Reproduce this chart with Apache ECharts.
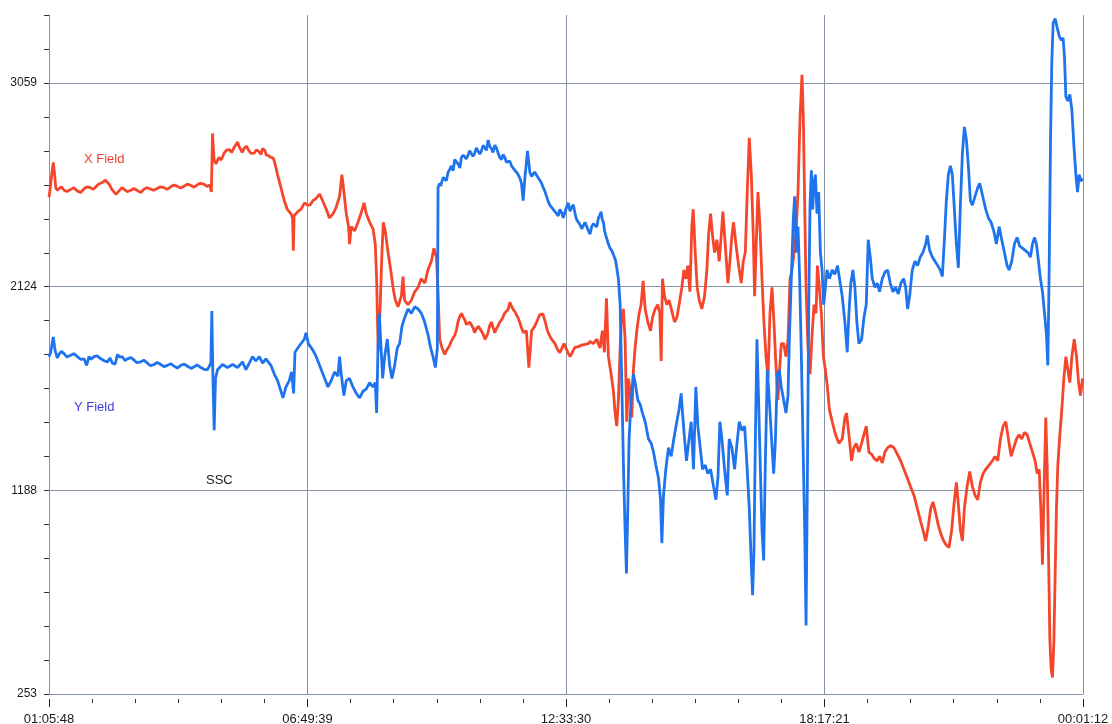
<!DOCTYPE html>
<html>
<head>
<meta charset="utf-8">
<script src="https://cdn.jsdelivr.net/npm/echarts@6/dist/echarts.min.js"></script>
<style>
  html, body { margin: 0; padding: 0; background: #ffffff; }
  #chart { width: 1112px; height: 724px; }
</style>
</head>
<body>
<div id="chart"></div>
<script>
// Magnetometer record: [minutes elapsed since 01:05:48, field reading]
const xField = [
  [0,2534],[1,2558],[4,2648],[5.7,2694],[7.5,2638],[9,2578],[11,2566],[13,2574],[16.5,2582],[20,2566],
  [24,2560],[29,2570],[33,2578],[38,2562],[42,2556],[47,2574],[51,2582],[55,2578],[59,2570],[64,2588],
  [67,2596],[71,2602],[75,2612],[80,2594],[84,2568],[89,2548],[93,2562],[97,2578],[100,2570],[104,2560],
  [109,2566],[113,2574],[118,2564],[122,2556],[126,2570],[130,2578],[135,2572],[139,2566],[144,2574],[148,2582],
  [153,2578],[157,2570],[162,2582],[166,2590],[171,2584],[175,2576],[180,2586],[184,2594],[189,2588],[193,2580],
  [197,2590],[201,2598],[206,2594],[210,2584],[214,2590],[216,2558],[217.5,2827],[219.5,2707],[222,2687],[226,2717],
  [229,2705],[233,2737],[236,2750],[240,2753],[243,2740],[246,2761],[248,2770],[251,2787],[253,2765],[255,2753],
  [257,2740],[260,2761],[263,2768],[266,2747],[269,2735],[273,2737],[276,2752],[280,2741],[282,2730],[284,2757],
  [287,2750],[289,2727],[292,2725],[295,2717],[298,2715],[300,2697],[304,2638],[308.5,2578],[313,2518],[317,2478],
  [322,2458],[324,2439],[325,2289],[326,2449],[331,2468],[335,2478],[340,2508],[344,2498],[347,2498],[351,2518],
  [355,2528],[360,2548],[364,2518],[369,2478],[373,2439],[378,2459],[382,2488],[386.5,2538],[389.6,2638],[392.3,2558],
  [395.4,2459],[398.5,2399],[399.8,2319],[402,2399],[406.5,2379],[411,2419],[415,2459],[419,2508],[422,2459],[426.5,2419],
  [431,2389],[434,2319],[435.8,2160],[436.7,2001],[438,1830],[440.2,2001],[442.9,2280],[444.7,2419],[447.3,2379],[451,2280],
  [454.5,2200],[457.6,2120],[460.7,2061],[464.2,2031],[468.7,2080],[470.9,2170],[473,2061],[477.5,2041],[482,2061],[486.4,2100],
  [491,2120],[495,2160],[500,2140],[504,2200],[508.6,2240],[512,2300],[515.3,2260],[517.5,2100],[519.7,1882],[522.8,1842],
  [526.4,1812],[528.7,1830],[531,1842],[533,1855],[535,1872],[537.5,1880],[540,1902],[542,1925],[544,1961],[546.3,1985],
  [548.6,2001],[550.8,1985],[553,1971],[555.2,1950],[557.5,1941],[559.8,1960],[562,1961],[564,1935],[566,1912],[568.5,1930],
  [571,1941],[573,1935],[575,1921],[577.5,1905],[580,1882],[582,1895],[584,1912],[586.2,1945],[588.5,1961],[590.8,1935],
  [593,1912],[595,1930],[597,1941],[599.5,1960],[602,1971],[604,1985],[606,2001],[608.5,2010],[611,2021],[613,2051],
  [615,2035],[617,2021],[619.5,2010],[622,2001],[624,1980],[626,1961],[628.5,1935],[631,1912],[633,1915],[635,1921],
  [638.3,1752],[642,1921],[644,1930],[646,1941],[648.5,1960],[651,1981],[653,1995],[655,2001],[657,1998],[659,1991],
  [661,1950],[663,1921],[665.7,1900],[668.5,1882],[670.7,1875],[673,1862],[675,1845],[677,1832],[679.5,1820],[682,1812],
  [685,1862],[690,1822],[693.1,1802],[695.3,1815],[697.5,1832],[699.7,1845],[701.9,1852],[704.2,1848],[706.4,1842],[708.6,1855],
  [710.8,1862],[713,1858],[715.3,1852],[717.5,1862],[719.7,1872],[721.9,1868],[724.1,1862],[726.4,1870],[728.6,1882],[730.8,1860],
  [733,1842],[736.1,1921],[738.8,1822],[741.5,2070],[744.1,1802],[747.7,1722],[750.8,1643],[753,1543],[755.2,1483],[757.4,1603],
  [759.7,1842],[761.9,2001],[764.1,2021],[766.3,1882],[768.5,1503],[770.8,1702],[773,1643],[775.2,1523],[777.4,1742],[779.6,1842],
  [781.9,1921],[785,2001],[787.6,2041],[790.3,2150],[793,2021],[796.5,1961],[800.1,1921],[802.7,1981],[806.3,2021],[809.8,2041],
  [812.5,2001],[814.3,1782],[816,2160],[818.7,2080],[821.8,2041],[824.9,2061],[828.5,2011],[832,1961],[835.1,1981],[838.2,2041],
  [841.8,2120],[844.5,2200],[847.1,2160],[849.8,2220],[852.5,2100],[855.1,2399],[856.9,2478],[859.6,2280],[862.2,2120],[864.9,2061],
  [868.4,2021],[872,2080],[875.1,2200],[877.3,2359],[880,2459],[882.6,2359],[885.3,2280],[888.4,2339],[891.5,2240],[894.2,2359],
  [896.4,2468],[899.5,2319],[903.1,2140],[905.7,2240],[908.4,2359],[910.6,2419],[913.7,2319],[917.3,2220],[920.8,2140],[923.5,2240],
  [926.2,2280],[928.8,2558],[931.5,2807],[934.2,2638],[936.8,2359],[938.6,2080],[940.4,2280],[943,2558],[945.7,2399],[948.4,2160],
  [951,1961],[953.7,1802],[956.4,1702],[959,2001],[961.7,2120],[964.3,1961],[967,1762],[969.7,1603],[971.4,1722],[974.1,1862],
  [977.2,1862],[980.3,1802],[983,1882],[985.7,2160],[988.3,2200],[991,2280],[993.6,2359],[996.3,2558],[999,2897],[1001.6,3096],
  [1003.4,2897],[1005.2,2498],[1007,2120],[1009.6,1842],[1012.3,1722],[1015,1902],[1017.6,2041],[1020.3,2001],[1022.1,2220],[1024.7,2120],
  [1027.4,2001],[1030.1,1802],[1032.7,1742],[1035.4,1663],[1038,1560],[1042,1500],[1046.2,1444],[1050.7,1404],[1055.1,1424],[1058.7,1523],
  [1060.9,1543],[1064,1444],[1067.5,1324],[1070.6,1384],[1073.7,1404],[1077.3,1364],[1080.9,1404],[1084,1444],[1087.1,1483],[1090.6,1364],
  [1094.2,1354],[1097.7,1334],[1101.7,1324],[1104.8,1344],[1108.4,1314],[1111.9,1364],[1115.5,1384],[1119.5,1394],[1123.9,1384],[1128.4,1354],
  [1132.8,1324],[1137.2,1285],[1141.7,1245],[1146.1,1205],[1150.6,1165],[1155,1105],[1159.4,1046],[1162.5,1006],[1166.1,956],[1169.7,1026],
  [1172.8,1105],[1175.9,1135],[1179.4,1085],[1183,1026],[1186.5,986],[1190.1,956],[1193.6,936],[1197.2,926],[1200.7,1006],[1203.8,1125],
  [1207,1225],[1209.6,1125],[1212.3,1006],[1215,956],[1217.6,1105],[1221.2,1205],[1224.7,1275],[1228.3,1205],[1231.8,1165],[1235.4,1145],
  [1238.9,1225],[1242.5,1265],[1246,1285],[1250.5,1304],[1254.9,1324],[1258.5,1344],[1262,1324],[1265.6,1424],[1269.1,1483],[1272.7,1503],
  [1276.2,1424],[1279.8,1344],[1283.3,1384],[1286.9,1424],[1290.4,1444],[1294,1424],[1297.5,1454],[1301.1,1444],[1304.6,1404],[1308.2,1364],
  [1311.7,1324],[1314.4,1265],[1317.1,1285],[1319.3,1105],[1321.5,847],[1323.7,1205],[1325.9,1523],[1327.7,1304],[1329.5,906],[1331.3,508],
  [1333,369],[1334.8,329],[1336.6,488],[1338.4,807],[1340.1,1105],[1341.9,1304],[1344.6,1444],[1347.3,1563],[1349.9,1702],[1352.6,1802],
  [1355.2,1742],[1357.9,1683],[1360.6,1802],[1363.7,1882],[1366.8,1802],[1369.5,1683],[1372.1,1623],[1374.8,1702]
];

const yField = [
  [0,1802],[2.2,1822],[5.7,1892],[8,1832],[11,1796],[13.3,1812],[16.5,1826],[20,1816],[24,1800],[28.8,1808],
  [33,1816],[37.7,1802],[42,1790],[46.6,1792],[50.1,1762],[53.2,1802],[56,1790],[59.9,1802],[64,1806],[68.8,1792],
  [73,1784],[77.7,1778],[81,1796],[84.3,1772],[88,1768],[91,1812],[94,1800],[97.6,1802],[101,1784],[104.3,1792],
  [109,1798],[113.2,1786],[117,1774],[122.1,1778],[126,1786],[131,1772],[135,1760],[139.8,1766],[144,1776],[148.7,1766],
  [153,1756],[157.6,1762],[162,1770],[166.5,1758],[171,1750],[175.3,1762],[180,1768],[184.2,1758],[189,1748],[193.1,1756],
  [197,1764],[202,1752],[206,1744],[210.9,1742],[215.3,1772],[216.6,2011],[218,1712],[219.7,1464],[221.5,1702],[224.2,1742],
  [230.8,1766],[237.5,1752],[244.2,1766],[250.8,1752],[257.5,1778],[261.9,1742],[266.4,1772],[270.8,1802],[275.2,1782],[279.7,1802],
  [284.1,1772],[288.6,1792],[295.2,1762],[299.7,1722],[304.1,1692],[308.5,1643],[311.2,1613],[315.2,1663],[319.6,1692],[322.7,1732],
  [325.4,1633],[327.2,1822],[333,1852],[339.6,1882],[341.9,1911],[345,1862],[351,1832],[355.4,1802],[359.9,1762],[364.3,1722],
  [368.8,1683],[371,1663],[375.4,1692],[379.9,1732],[384.3,1712],[386.5,1802],[388.7,1722],[392.3,1623],[395.4,1692],[399.8,1702],
  [404.3,1663],[408.7,1633],[413.2,1613],[417.6,1643],[422,1653],[426.5,1683],[430.9,1663],[434,1683],[435.8,1543],[437.6,1842],
  [439.4,2001],[441.1,1882],[443.8,1702],[446.5,1802],[450,1882],[453.1,1762],[456.2,1702],[459.8,1762],[463.3,1842],[466.4,1862],
  [469.5,1941],[473.1,1981],[477.5,2021],[482,2001],[486.4,2031],[490.9,2021],[495.3,2001],[499.7,1961],[504.2,1902],[507.7,1842],
  [510.8,1802],[513.9,1752],[516.6,1842],[517.5,2578],[519.7,2598],[521,2585],[522.8,2608],[524.5,2625],[526.4,2628],[528.5,2610],
  [530.8,2648],[533,2662],[535.3,2678],[537.5,2655],[539.7,2707],[542,2715],[544.1,2687],[546.5,2668],[548.6,2717],[551,2728],
  [553,2737],[555,2710],[557.5,2727],[559.5,2748],[561.9,2747],[564,2722],[566.3,2737],[568.5,2760],[570.8,2761],[573,2732],
  [575.2,2747],[577.5,2772],[579.7,2767],[582,2750],[584.1,2797],[586,2770],[588.5,2757],[590.5,2740],[593,2773],[595,2762],
  [597.4,2737],[599.5,2718],[601.9,2707],[604,2730],[606.3,2717],[608.5,2695],[610.7,2687],[613,2700],[615.2,2678],[617.5,2668],
  [619.6,2658],[622,2648],[624.1,2638],[626.5,2620],[628.5,2598],[630.7,2518],[632.9,2618],[636.5,2747],[639.6,2648],[642,2630],
  [644,2638],[646,2650],[648.5,2642],[650.5,2625],[652.9,2618],[655,2600],[657.4,2578],[659.5,2562],[661.8,2538],[664,2515],
  [666.2,2498],[668.5,2492],[670.7,2478],[673,2470],[675.1,2459],[677.3,2448],[679.5,2478],[681.8,2465],[684,2439],[686.2,2432],
  [688.4,2488],[690.8,2508],[693,2470],[695.3,2488],[697.5,2500],[699.7,2459],[702,2430],[704.2,2419],[706.4,2408],[708.6,2389],
  [710.8,2380],[713,2419],[715.3,2400],[717.5,2379],[719.7,2365],[721.9,2399],[724.1,2412],[726.4,2409],[728.6,2398],[730.8,2439],
  [732.6,2450],[734.4,2468],[736,2430],[737.5,2419],[739,2380],[740.6,2359],[742.3,2340],[744.1,2319],[746.3,2300],[748.6,2289],
  [750.3,2275],[752.1,2270],[753.6,2245],[755.2,2210],[757.4,2160],[759.7,2041],[761.9,1683],[764.1,1304],[766.3,1006],[768.1,807],
  [769.9,1105],[771.6,1424],[774.3,1603],[777.4,1722],[779.6,1683],[783.2,1603],[786.3,1583],[789.4,1543],[793,1503],[797.4,1424],
  [801,1404],[804.1,1364],[807.2,1304],[810.7,1245],[813.4,1145],[815.2,946],[817.4,1165],[820.5,1285],[824,1384],[827.6,1344],
  [831.1,1424],[835.1,1503],[838.2,1563],[840.9,1633],[842.7,1543],[845.4,1424],[848,1324],[850.7,1404],[854.2,1503],[857.3,1285],
  [860.4,1663],[863.1,1483],[866.2,1384],[869.3,1285],[872.9,1304],[876.4,1265],[880,1285],[884,1205],[887.1,1145],[889.8,1245],
  [892.4,1503],[895.1,1424],[898.6,1285],[902.2,1165],[904.8,1424],[908.4,1384],[912,1285],[915.1,1404],[918.2,1503],[921.7,1463],
  [925.3,1483],[928.4,1304],[931.5,1105],[934.2,847],[935.9,707],[937.7,906],[939.5,1404],[941.7,1882],[943.9,1603],[946.1,1304],
  [948.4,1006],[950.6,866],[952.8,1304],[955.5,1742],[958.1,1603],[960.8,1444],[963.9,1265],[966.1,1404],[968.8,1722],[971.4,1742],
  [974.1,1663],[977.2,1603],[980.3,1543],[983,1623],[984.8,1882],[987.4,2160],[990.1,2439],[991.9,2538],[994.1,2280],[996.3,2399],
  [998.5,2160],[1000.8,1802],[1003,1404],[1005.2,1006],[1007,568],[1008.7,1205],[1010.5,2001],[1012.3,2498],[1014.1,2658],[1015.8,2478],
  [1017.6,2598],[1019.4,2638],[1021.6,2459],[1023.8,2558],[1026.1,2280],[1028.3,2200],[1030.5,2041],[1032.7,2120],[1034.9,2200],[1038.2,2160],
  [1041.8,2200],[1045.3,2180],[1048.9,2220],[1051.5,2160],[1055.1,2080],[1058.7,1961],[1061.8,1822],[1064,2001],[1066.6,2140],[1069.3,2200],
  [1072,2120],[1074.6,1961],[1077.3,1862],[1080.9,1882],[1084,1981],[1087.1,2041],[1089.7,2339],[1092.4,2260],[1095.1,2160],[1098.6,2120],
  [1101.7,2140],[1104.8,2100],[1108.4,2160],[1111.9,2190],[1115.5,2200],[1119,2140],[1122.6,2100],[1126.1,2120],[1129.7,2090],[1133.2,2140],
  [1136.8,2160],[1139.5,2120],[1142.1,2021],[1144.8,2080],[1148.3,2200],[1151.9,2240],[1155.4,2220],[1159,2260],[1162.5,2280],[1166.1,2319],
  [1168.3,2359],[1171.4,2290],[1175,2260],[1178.5,2240],[1182.1,2220],[1185.6,2200],[1188.3,2170],[1191,2339],[1193.6,2518],[1196.3,2638],
  [1199,2678],[1201.6,2638],[1204.3,2478],[1207,2319],[1209.6,2210],[1212.3,2498],[1215,2737],[1217.6,2857],[1220.3,2797],[1222.9,2678],
  [1225.6,2518],[1228.3,2498],[1231.8,2538],[1235.4,2578],[1238,2598],[1240.7,2558],[1243.4,2518],[1246,2478],[1249.6,2439],[1253.1,2419],
  [1256.7,2379],[1260.2,2319],[1263.8,2399],[1267.3,2339],[1270.9,2280],[1274.4,2220],[1277.1,2200],[1280.6,2240],[1284.2,2319],[1287.7,2349],
  [1291.3,2309],[1294.9,2300],[1298.4,2290],[1302,2280],[1305.5,2260],[1308.2,2319],[1310.8,2349],[1313.5,2319],[1316.2,2240],[1318.8,2160],
  [1321.5,2100],[1324.2,2001],[1326.8,1902],[1328.6,1762],[1330.4,2200],[1332.2,2797],[1333.9,3155],[1335.7,3334],[1338.4,3354],[1341,3314],
  [1343.7,3275],[1346.4,3255],[1349,3265],[1350.8,3175],[1352.6,2996],[1355.2,2976],[1357.9,3006],[1360.6,2936],[1363.2,2777],[1365.9,2638],
  [1368.1,2558],[1370.3,2638],[1372.6,2608],[1375,2620]
];

// Axis scale
const startClock = '01:05:48';
const spanMinutes = 1375.4;     // 01:05:48 -> 00:01:12 next day
const timeTickStep = 343.85;    // 5h 43m 51s between labelled ticks
const yTickLabels = [253, 1188, 2124, 3059];
const yTop = 3370.8;

const gridColor = '#8493a6';
const textColor = '#1a1a1a';

const startSec = startClock.split(':').reduce((a, p) => a * 60 + Number(p), 0);
function clockLabel(min) {
  const s = ((Math.round(startSec + min * 60) % 86400) + 86400) % 86400;
  const pad = n => String(n).padStart(2, '0');
  return pad(Math.floor(s / 3600)) + ':' + pad(Math.floor(s / 60) % 60) + ':' + pad(s % 60);
}

// five sub-steps between labelled values, continued up to the top of the scale
const ySub = (yTickLabels[1] - yTickLabels[0]) / 6;
const yMinorTicks = [];
for (let v = yTickLabels[0]; v <= yTop + 0.5; v += ySub) yMinorTicks.push(v);

const chart = echarts.init(document.getElementById('chart'), null, { renderer: 'canvas' });
chart.setOption({
  animation: false,
  backgroundColor: '#ffffff',
  grid: { left: 49, right: 29, top: 15, bottom: 30, containLabel: false, outerBoundsMode: 'none' },
  xAxis: [
    {
      type: 'value', position: 'bottom', min: 0, max: spanMinutes, interval: timeTickStep,
      axisLine: { show: true, lineStyle: { color: gridColor, width: 1 } },
      axisTick: { show: false },
      axisLabel: { show: false },
      splitLine: { show: true, lineStyle: { color: gridColor, width: 1 } }
    },
    {
      type: 'value', position: 'bottom', min: 0, max: spanMinutes, interval: timeTickStep, offset: 5,
      axisLine: { show: false },
      axisTick: { show: true, length: 8, lineStyle: { color: '#222', width: 1 } },
      minorTick: { show: true, splitNumber: 6, length: 4, lineStyle: { color: '#333', width: 1 } },
      axisLabel: {
        show: true, margin: 14, color: textColor, fontSize: 13,
        fontFamily: '"Liberation Sans", Arial, sans-serif',
        formatter: v => clockLabel(v)
      },
      splitLine: { show: false }
    }
  ],
  yAxis: [
    {
      type: 'value', position: 'left', min: yTickLabels[0], max: yTop,
      axisLine: { show: true, lineStyle: { color: gridColor, width: 1 } },
      axisTick: { show: false, customValues: yTickLabels },
      axisLabel: {
        show: true, customValues: yTickLabels, margin: 12, color: textColor, fontSize: 12,
        fontFamily: '"Liberation Sans", Arial, sans-serif',
        formatter: v => String(Math.round(v))
      },
      splitLine: { show: true, lineStyle: { color: gridColor, width: 1 } }
    },
    {
      type: 'value', position: 'left', min: yTickLabels[0], max: yTop, offset: 4,
      axisLine: { show: false },
      axisTick: { show: true, length: 5, customValues: yMinorTicks, lineStyle: { color: '#333', width: 1 } },
      axisLabel: { show: false },
      splitLine: { show: false }
    }
  ],
  series: [
    {
      name: 'X Field', type: 'line', data: xField, xAxisIndex: 0, yAxisIndex: 0,
      showSymbol: false, sampling: null, smooth: false,
      lineStyle: { color: '#f5452b', width: 2.8 }, z: 3
    },
    {
      name: 'Y Field', type: 'line', data: yField, xAxisIndex: 0, yAxisIndex: 0,
      showSymbol: false, sampling: null, smooth: false,
      lineStyle: { color: '#1f74ee', width: 2.8 }, z: 4
    }
  ],
  graphic: [
    { type: 'text', left: 84, top: 153, style: { text: 'X Field', fill: '#ef3e2c', font: '13px "Liberation Sans", Arial, sans-serif' } },
    { type: 'text', left: 74, top: 401, style: { text: 'Y Field', fill: '#3a3ce6', font: '13px "Liberation Sans", Arial, sans-serif' } },
    { type: 'text', left: 206, top: 474, style: { text: 'SSC', fill: textColor, font: '13px "Liberation Sans", Arial, sans-serif' } }
  ]
});
</script>
</body>
</html>
